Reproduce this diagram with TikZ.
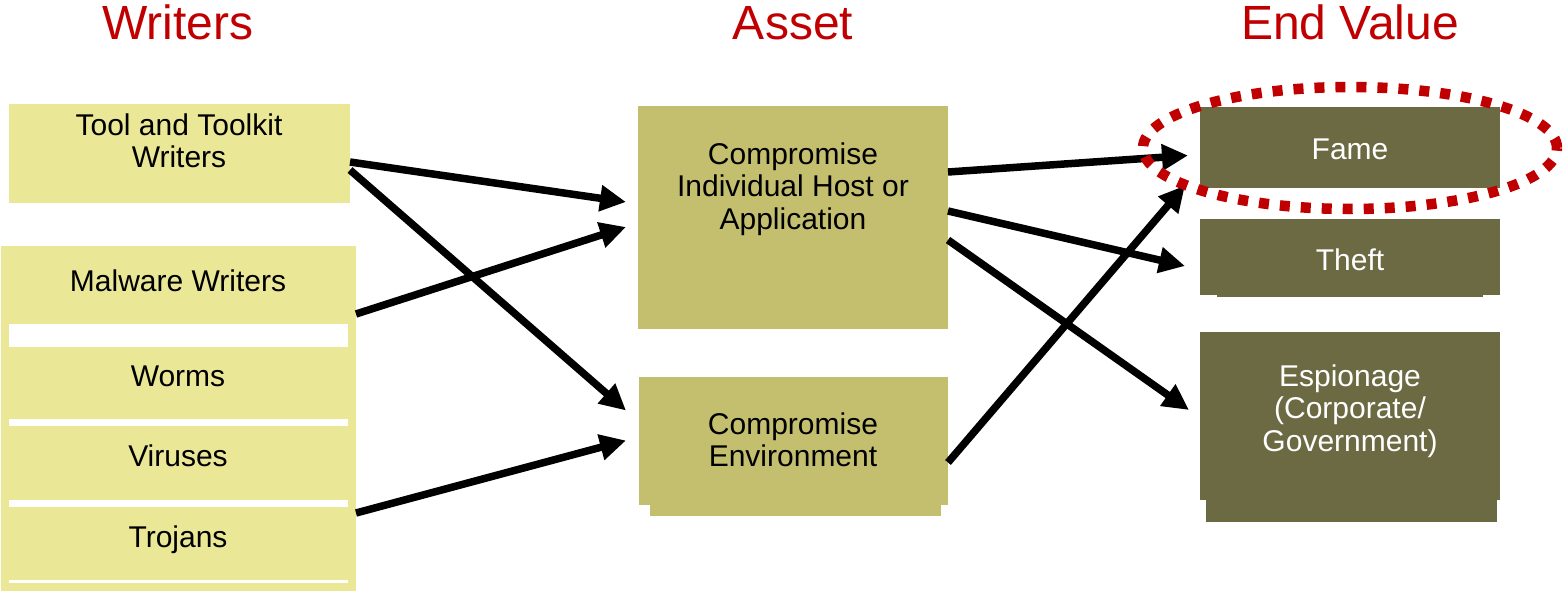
\documentclass[tikz,border=0pt]{standalone}
\usepackage{fontspec}
\setmainfont{Liberation Sans}
\usetikzlibrary{arrows.meta,calc}
\definecolor{lightol}{HTML}{EAE796}
\definecolor{midol}{HTML}{C4BF6F}
\definecolor{darkol}{HTML}{6C6A43}
\definecolor{redtitle}{HTML}{C00000}
\begin{document}
\begin{tikzpicture}[x=1pt,y=-1pt,
  box/.style={rectangle,inner sep=0pt,outer sep=0pt,anchor=north west},
  lbox/.style={box,fill=lightol},
  mbox/.style={box,fill=midol},
  dbox/.style={box,fill=darkol},
  txt/.style={inner sep=0pt,align=center,font=\fontsize{30}{32.5}\selectfont},
  wtxt/.style={txt,text=white},
  title/.style={inner sep=0pt,anchor=base,text=redtitle,font=\fontsize{48}{52}\selectfont},
  conn/.style={line width=7.5pt,-{Triangle[length=26pt,width=25pt]}},
]
\useasboundingbox (0,0) rectangle (1564,591);

% titles
\node[title] (tw) at (178,40) {Writers};
\node[title] (ta) at (793,40) {Asset};
\node[title] (te) at (1350,40) {End Value};

% left column
\node[lbox,minimum width=341pt,minimum height=99pt] (tool) at (9,104) {};
\node[txt] (toolt) at (179,141) {Tool and Toolkit\\Writers};
\node[lbox,minimum width=355pt,minimum height=345pt] (mal) at (1,246) {};
\fill[white] (9,324) rectangle (348,347);
\fill[white] (9,419) rectangle (348,426);
\fill[white] (9,500) rectangle (348,507);
\fill[white] (9,580) rectangle (348,583);
\node[txt,anchor=base] (malt) at (178,291) {Malware Writers};
\node[txt,anchor=base] (worms) at (178,386) {Worms};
\node[txt,anchor=base] (vir) at (178,466) {Viruses};
\node[txt,anchor=base] (troj) at (178,547) {Trojans};

% middle column
\node[mbox,minimum width=310pt,minimum height=223pt] (indiv) at (638,106) {};
\node[txt] (indivt) at (793,189) {Compromise\\Individual Host or\\Application};
\fill[midol] (650,505) rectangle (941,516);
\node[mbox,minimum width=309pt,minimum height=128pt] (env) at (639,377) {};
\node[txt] (envt) at (793,440) {Compromise\\Environment};

% right column
\node[dbox,minimum width=300pt,minimum height=81pt] (fame) at (1200,107) {};
\node[wtxt,anchor=base] (famet) at (1350,160) {Fame};
\fill[darkol] (1217,294) rectangle (1483,297);
\node[dbox,minimum width=300pt,minimum height=76pt] (theft) at (1200,219) {};
\node[wtxt,anchor=base] (theftt) at (1350,270) {Theft};
\fill[darkol] (1206,499) rectangle (1497,522);
\node[dbox,minimum width=300pt,minimum height=168pt] (esp) at (1200,332) {};
\node[wtxt] (espt) at (1350,411) {Espionage\\(Corporate/\\Government)};

% connectors
\draw[conn] ($(tool.east)+(0,8.5)$) -- ($(indiv.west)+(-12,-15.5)$);
\draw[conn] ($(tool.east)+(0,16.5)$) -- ($(env.west)+(-13,-30.5)$);
\draw[conn] ($(mal.east)+(0,-104.5)$) -- ($(indiv.west)+(-12,9.5)$);
\draw[conn] ($(mal.east)+(0,94.5)$) -- ($(env.west)+(-13,-0.5)$);
\draw[conn] ($(indiv.east)+(0,-45.5)$) -- ($(fame.west)+(-12,8)$);
\draw[conn] ($(indiv.east)+(0,-6.5)$) -- ($(theft.west)+(-15,9)$);
\draw[conn] ($(indiv.east)+(0,22.5)$) -- ($(esp.west)+(-11,-6)$);
\draw[conn] ($(env.east)+(0,21.5)$) -- ($(fame.west)+(-15,38)$);

% highlight
\draw[redtitle,line width=10.5pt,dash pattern=on 10pt off 11pt] (1350,148) ellipse [x radius=207pt,y radius=61pt];
\end{tikzpicture}
\end{document}
